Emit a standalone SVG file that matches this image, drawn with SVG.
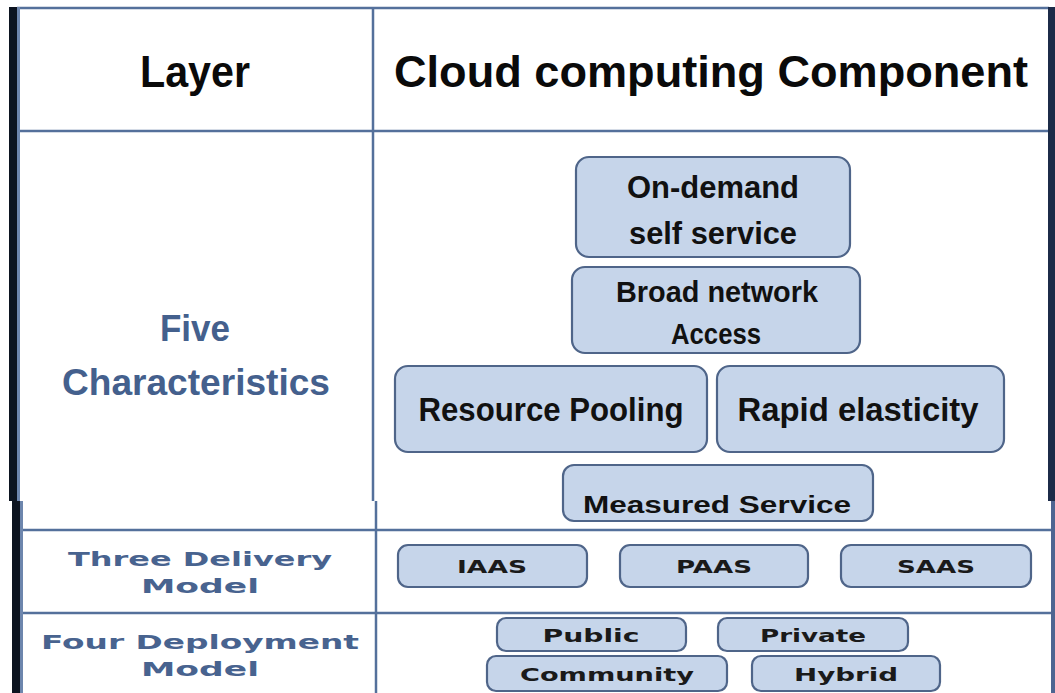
<svg xmlns="http://www.w3.org/2000/svg" width="1055" height="693" viewBox="0 0 1055 693">
<style>
.grid{stroke:#54709b;stroke-width:2.5;fill:none}
.box{fill:#c6d5ea;stroke:#4f6589;stroke-width:2.2}
.hdr{font-family:"Liberation Sans",Arial,sans-serif;font-weight:bold;fill:#0a0a0a;font-size:44px;text-anchor:middle}
.cal{font-family:"Liberation Sans",Arial,sans-serif;font-weight:bold;fill:#111;text-anchor:middle}
.lay{font-family:"Liberation Sans",Arial,sans-serif;font-weight:bold;fill:#44608d;text-anchor:middle;font-size:36px}
.wide{font-family:"DejaVu Sans",Verdana,sans-serif;font-weight:bold;text-anchor:middle}
.lay2{fill:#48638f;font-size:20px}
.bt{fill:#1a1a1a;font-size:17px}
</style>
<rect width="1055" height="693" fill="#ffffff"/>
<g id="table">
  <line class="grid" x1="17" y1="8" x2="1049" y2="8"/>
  <line class="grid" x1="17" y1="131" x2="1049" y2="131"/>
  <line class="grid" x1="373" y1="8" x2="373" y2="501"/>
  <line class="grid" x1="376" y1="501" x2="376" y2="693"/>
  <line class="grid" x1="20" y1="530" x2="1051" y2="530"/>
  <line class="grid" x1="20" y1="613" x2="1051" y2="613"/>
  <rect x="9" y="7" width="8" height="494" fill="#0c1420"/>
  <rect x="17" y="7" width="3" height="494" fill="#6d86ad"/>
  <rect x="12" y="501" width="8" height="192" fill="#0c1420"/>
  <rect x="20" y="501" width="3" height="192" fill="#6d86ad"/>
  <rect x="1048" y="7" width="7" height="494" fill="#1c2b48"/>
  <rect x="1051" y="501" width="4" height="192" fill="#4d6591"/>
</g>
<g id="header-layer"><text class="hdr" x="195" y="87" textLength="110" lengthAdjust="spacingAndGlyphs">Layer</text></g>
<g id="header-component"><text class="hdr" x="711" y="87" textLength="634" lengthAdjust="spacingAndGlyphs">Cloud computing  Component</text></g>
<g id="layer-five"><text class="lay" x="195" y="341" textLength="70" lengthAdjust="spacingAndGlyphs">Five</text><text class="lay" x="196" y="395" textLength="268" lengthAdjust="spacingAndGlyphs">Characteristics</text></g>
<g id="layer-three"><text class="wide lay2" x="200" y="566" textLength="264" lengthAdjust="spacingAndGlyphs">Three Delivery</text><text class="wide lay2" x="200" y="593" textLength="118" lengthAdjust="spacingAndGlyphs">Model</text></g>
<g id="layer-four"><text class="wide lay2" x="200" y="649" textLength="318" lengthAdjust="spacingAndGlyphs">Four Deployment</text><text class="wide lay2" x="200" y="676" textLength="118" lengthAdjust="spacingAndGlyphs">Model</text></g>
<g id="on-demand"><rect class="box" x="576" y="157" width="274" height="100" rx="13"/><text class="cal" font-size="32" x="713" y="198" textLength="172" lengthAdjust="spacingAndGlyphs">On-demand</text><text class="cal" font-size="32" x="713" y="244" textLength="168" lengthAdjust="spacingAndGlyphs">self service</text></g>
<g id="broad-network"><rect class="box" x="572" y="267" width="288" height="86" rx="13"/><text class="cal" font-size="29" x="717" y="302" textLength="202" lengthAdjust="spacingAndGlyphs">Broad network</text><text class="cal" font-size="29" x="716" y="344" textLength="90" lengthAdjust="spacingAndGlyphs">Access</text></g>
<g id="resource-pooling"><rect class="box" x="395" y="366" width="312" height="86" rx="13"/><text class="cal" font-size="33" x="551" y="421" textLength="265" lengthAdjust="spacingAndGlyphs">Resource Pooling</text></g>
<g id="rapid-elasticity"><rect class="box" x="717" y="366" width="287" height="86" rx="13"/><text class="cal" font-size="33" x="858" y="421" textLength="241" lengthAdjust="spacingAndGlyphs">Rapid elasticity</text></g>
<g id="measured-service"><rect class="box" x="563" y="465" width="310" height="56" rx="11"/><text class="cal" font-size="23" x="717" y="513" textLength="268" lengthAdjust="spacingAndGlyphs">Measured Service</text></g>
<g id="iaas"><rect class="box" x="398" y="545" width="189" height="42" rx="10"/><text class="wide bt" x="492" y="573" textLength="70" lengthAdjust="spacingAndGlyphs">IAAS</text></g>
<g id="paas"><rect class="box" x="620" y="545" width="188" height="42" rx="10"/><text class="wide bt" x="714" y="573" textLength="76" lengthAdjust="spacingAndGlyphs">PAAS</text></g>
<g id="saas"><rect class="box" x="841" y="545" width="190" height="42" rx="10"/><text class="wide bt" x="936" y="573" textLength="78" lengthAdjust="spacingAndGlyphs">SAAS</text></g>
<g id="public"><rect class="box" x="497" y="618" width="189" height="33" rx="9"/><text class="wide bt" x="591" y="642" textLength="97" lengthAdjust="spacingAndGlyphs">Public</text></g>
<g id="private"><rect class="box" x="718" y="618" width="190" height="33" rx="9"/><text class="wide bt" x="813" y="642" textLength="106" lengthAdjust="spacingAndGlyphs">Private</text></g>
<g id="community"><rect class="box" x="487" y="656" width="240" height="35" rx="9"/><text class="wide bt" x="607" y="681" textLength="174" lengthAdjust="spacingAndGlyphs">Community</text></g>
<g id="hybrid"><rect class="box" x="752" y="656" width="188" height="35" rx="9"/><text class="wide bt" x="846" y="681" textLength="104" lengthAdjust="spacingAndGlyphs">Hybrid</text></g>
<g id="connectors"></g>
</svg>
